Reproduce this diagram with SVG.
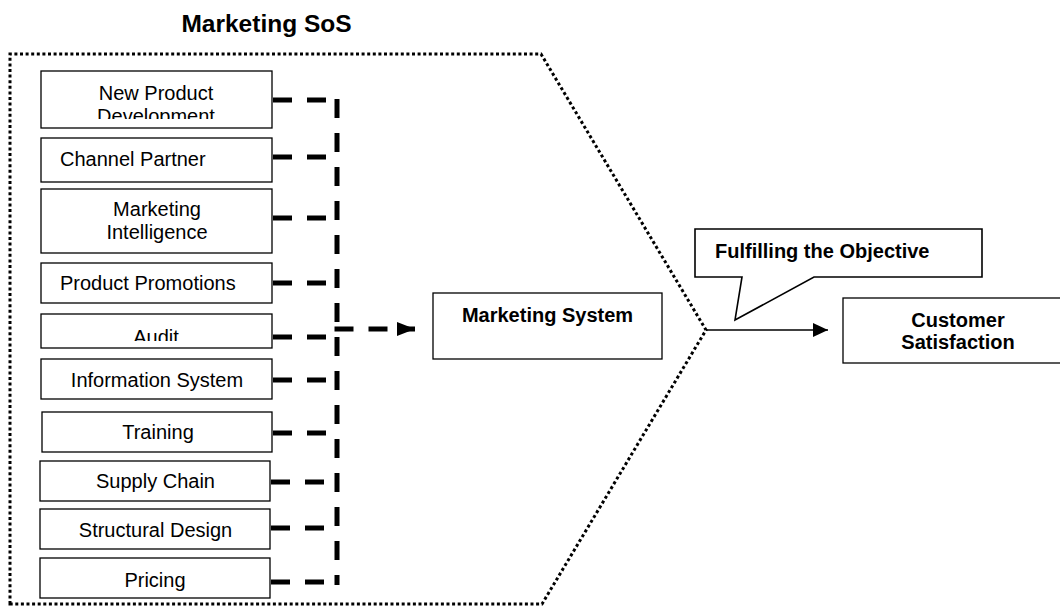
<svg xmlns="http://www.w3.org/2000/svg" width="1060" height="610" viewBox="0 0 1060 610">
<style>
text{font-family:"Liberation Sans",Arial,sans-serif;fill:#000}
.t{font-size:20px}
.b{font-size:20px;font-weight:bold}
.box{fill:#fff;stroke:#000;stroke-width:1.3}
.dash{fill:none;stroke:#000;stroke-width:5;stroke-dasharray:19 15}
</style>
<defs>
<marker id="ah" markerUnits="userSpaceOnUse" markerWidth="20" markerHeight="16" refX="18" refY="7" orient="auto">
<path d="M0,0 L18,7 L0,14 Z" fill="#000"/>
</marker>
<marker id="ah2" markerUnits="userSpaceOnUse" markerWidth="18" markerHeight="16" refX="15" refY="7" orient="auto">
<path d="M0,0 L15,7 L0,14 Z" fill="#000"/>
</marker>
<clipPath id="cNPD"><rect x="41" y="71" width="231" height="48"/></clipPath>
<clipPath id="cAudit"><rect x="41" y="314" width="231" height="27"/></clipPath>
</defs>
<rect width="1060" height="610" fill="#fff"/>
<g id="title"><text class="b" x="266.5" y="32" text-anchor="middle" style="font-size:24.5px">Marketing SoS</text></g>
<g id="sos-boundary"><path d="M10,604 L10,54 L541,54 L706,330 L542,604 Z" fill="none" stroke="#000" stroke-width="3" stroke-dasharray="3 2.6"/></g>
<g id="connectors">
<path class="dash" d="M273,100 H334"/>
<path class="dash" d="M273,157 H334"/>
<path class="dash" d="M273,218 H334"/>
<path class="dash" d="M273,283 H334"/>
<path class="dash" d="M273,337 H334"/>
<path class="dash" d="M273,380 H334"/>
<path class="dash" d="M273,433 H334"/>
<path class="dash" d="M271,482 H334"/>
<path class="dash" d="M271,528 H334"/>
<path class="dash" d="M271,582 H334"/>
<path class="dash" d="M337,99 V585"/>
<path class="dash" d="M334.5,329 H415" marker-end="url(#ah)"/>
<path d="M706,330 H828" fill="none" stroke="#000" stroke-width="1.5" marker-end="url(#ah2)"/>
</g>
<g id="n-npd"><rect class="box" x="41" y="71" width="231" height="57"/><g clip-path="url(#cNPD)"><text class="t" x="156" y="100" text-anchor="middle">New Product</text><text class="t" x="156" y="123" text-anchor="middle">Development</text></g></g>
<g id="n-channel"><rect class="box" x="41" y="138" width="231" height="44"/><text class="t" x="60" y="166">Channel Partner</text></g>
<g id="n-intel"><rect class="box" x="41" y="189" width="231" height="64"/><text class="t" x="157" y="216" text-anchor="middle">Marketing</text><text class="t" x="157" y="239" text-anchor="middle">Intelligence</text></g>
<g id="n-promo"><rect class="box" x="41" y="263" width="231" height="40"/><text class="t" x="60" y="290">Product Promotions</text></g>
<g id="n-audit"><rect class="box" x="41" y="314" width="231" height="34"/><g clip-path="url(#cAudit)"><text class="t" x="156" y="344" text-anchor="middle">Audit</text></g></g>
<g id="n-info"><rect class="box" x="41" y="359" width="231" height="40"/><text class="t" x="157" y="387" text-anchor="middle">Information System</text></g>
<g id="n-training"><rect class="box" x="42" y="412" width="230" height="40"/><text class="t" x="158" y="439" text-anchor="middle">Training</text></g>
<g id="n-supply"><rect class="box" x="40" y="461" width="230" height="40"/><text class="t" x="155.5" y="488" text-anchor="middle">Supply Chain</text></g>
<g id="n-structural"><rect class="box" x="40" y="509" width="230" height="40"/><text class="t" x="155.5" y="537" text-anchor="middle">Structural Design</text></g>
<g id="n-pricing"><rect class="box" x="40" y="558" width="230" height="40"/><text class="t" x="155" y="587" text-anchor="middle">Pricing</text></g>
<g id="n-msystem"><rect class="box" x="433" y="293" width="229" height="66"/><text class="b" x="547.5" y="322" text-anchor="middle">Marketing System</text></g>
<g id="n-callout"><path d="M695,229 H982 V277 H814 L735,320 L742,277 H695 Z" fill="#fff" stroke="#000" stroke-width="1.6"/><text class="b" x="715" y="258">Fulfilling the Objective</text></g>
<g id="n-customer"><rect class="box" x="843" y="298" width="230" height="65"/><text class="b" x="958" y="327" text-anchor="middle">Customer</text><text class="b" x="958" y="349" text-anchor="middle">Satisfaction</text></g>
</svg>
